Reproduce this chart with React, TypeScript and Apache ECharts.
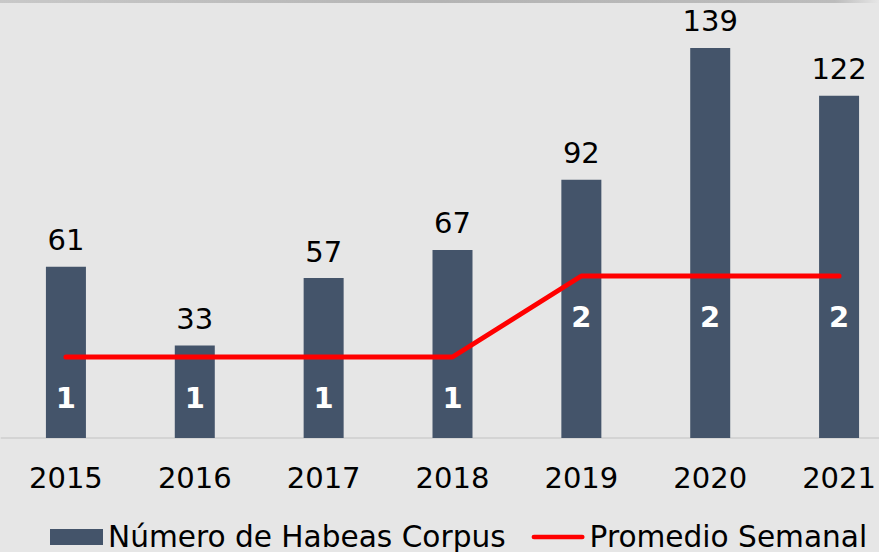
import React, { useEffect, useRef } from "react";
import * as echarts from "echarts";

const years = ["2015", "2016", "2017", "2018", "2019", "2020", "2021"];
const habeasCorpus = [61, 33, 57, 67, 92, 139, 122];
const promedioSemanal = [1, 1, 1, 1, 2, 2, 2];

const FONT = "DejaVu Sans, Verdana, sans-serif";

export default function App() {
  const ref = useRef<HTMLDivElement>(null);
  useEffect(() => {
    if (!ref.current) return;
    const chart = echarts.init(ref.current, null, { renderer: "svg" });
    const baseY = 438;
    const topY = 17;
    const h = baseY - topY;
    chart.setOption({
      animation: false,
      backgroundColor: "#e6e6e6",
      textStyle: { fontFamily: FONT },
      graphic: [
        {
          type: "rect",
          shape: { x: 0, y: 0, width: 879, height: 3 },
          style: {
            fill: new echarts.graphic.LinearGradient(0, 0, 1, 0, [
              { offset: 0, color: "#c8c8c8" },
              { offset: 0.5, color: "#b4b4b4" },
              { offset: 0.95, color: "#bcbcbc" },
              { offset: 1, color: "#e6e6e6" },
            ]),
          },
          silent: true,
        },
      ],
      grid: {
        left: 1.5,
        top: topY,
        width: 902,
        height: h,
        containLabel: false,
        outerBoundsMode: "none",
      },
      legend: {
        left: 45,
        top: 517,
        itemWidth: 53,
        itemHeight: 16,
        itemGap: 26,
        textStyle: { fontFamily: FONT, fontSize: 29.6, color: "#000" },
        data: [
          { name: "Número de Habeas Corpus", icon: "rect" },
          {
            name: "Promedio Semanal",
            icon: "path://M2.5,0 L53.5,0 A2.5,2.5 0 0 1 53.5,5 L2.5,5 A2.5,2.5 0 0 1 2.5,0 Z",
          },
        ],
      },
      xAxis: {
        type: "category",
        data: years,
        axisLine: { show: true, lineStyle: { color: "#d4d4d4", width: 2 } },
        axisTick: { show: false },
        axisLabel: { fontFamily: FONT, fontSize: 29, color: "#000", margin: 25 },
      },
      yAxis: [
        { type: "value", min: 0, max: h / 2.806, show: false, splitLine: { show: false } },
        { type: "value", min: 0, max: h / 81, show: false, splitLine: { show: false } },
      ],
      series: [
        {
          name: "Número de Habeas Corpus",
          type: "bar",
          data: habeasCorpus,
          barWidth: 40,
          itemStyle: { color: "#44546a" },
          label: {
            show: true,
            position: "top",
            distance: 12,
            fontFamily: FONT,
            fontSize: 29,
            color: "#000",
          },
        },
        {
          name: "Promedio Semanal",
          type: "line",
          yAxisIndex: 1,
          data: promedioSemanal,
          symbol: "circle",
          symbolSize: 1,
          showSymbol: true,
          itemStyle: { color: "#ff0000" },
          lineStyle: { color: "#ff0000", width: 5, cap: "round" },
          label: {
            show: true,
            position: "bottom",
            distance: 26,
            fontFamily: FONT,
            fontSize: 29,
            fontWeight: "bold",
            color: "#ffffff",
          },
        },
      ],
    });
    return () => chart.dispose();
  }, []);
  return <div ref={ref} style={{ width: 879, height: 552, position: "absolute", left: 0, top: 0 }} />;
}
